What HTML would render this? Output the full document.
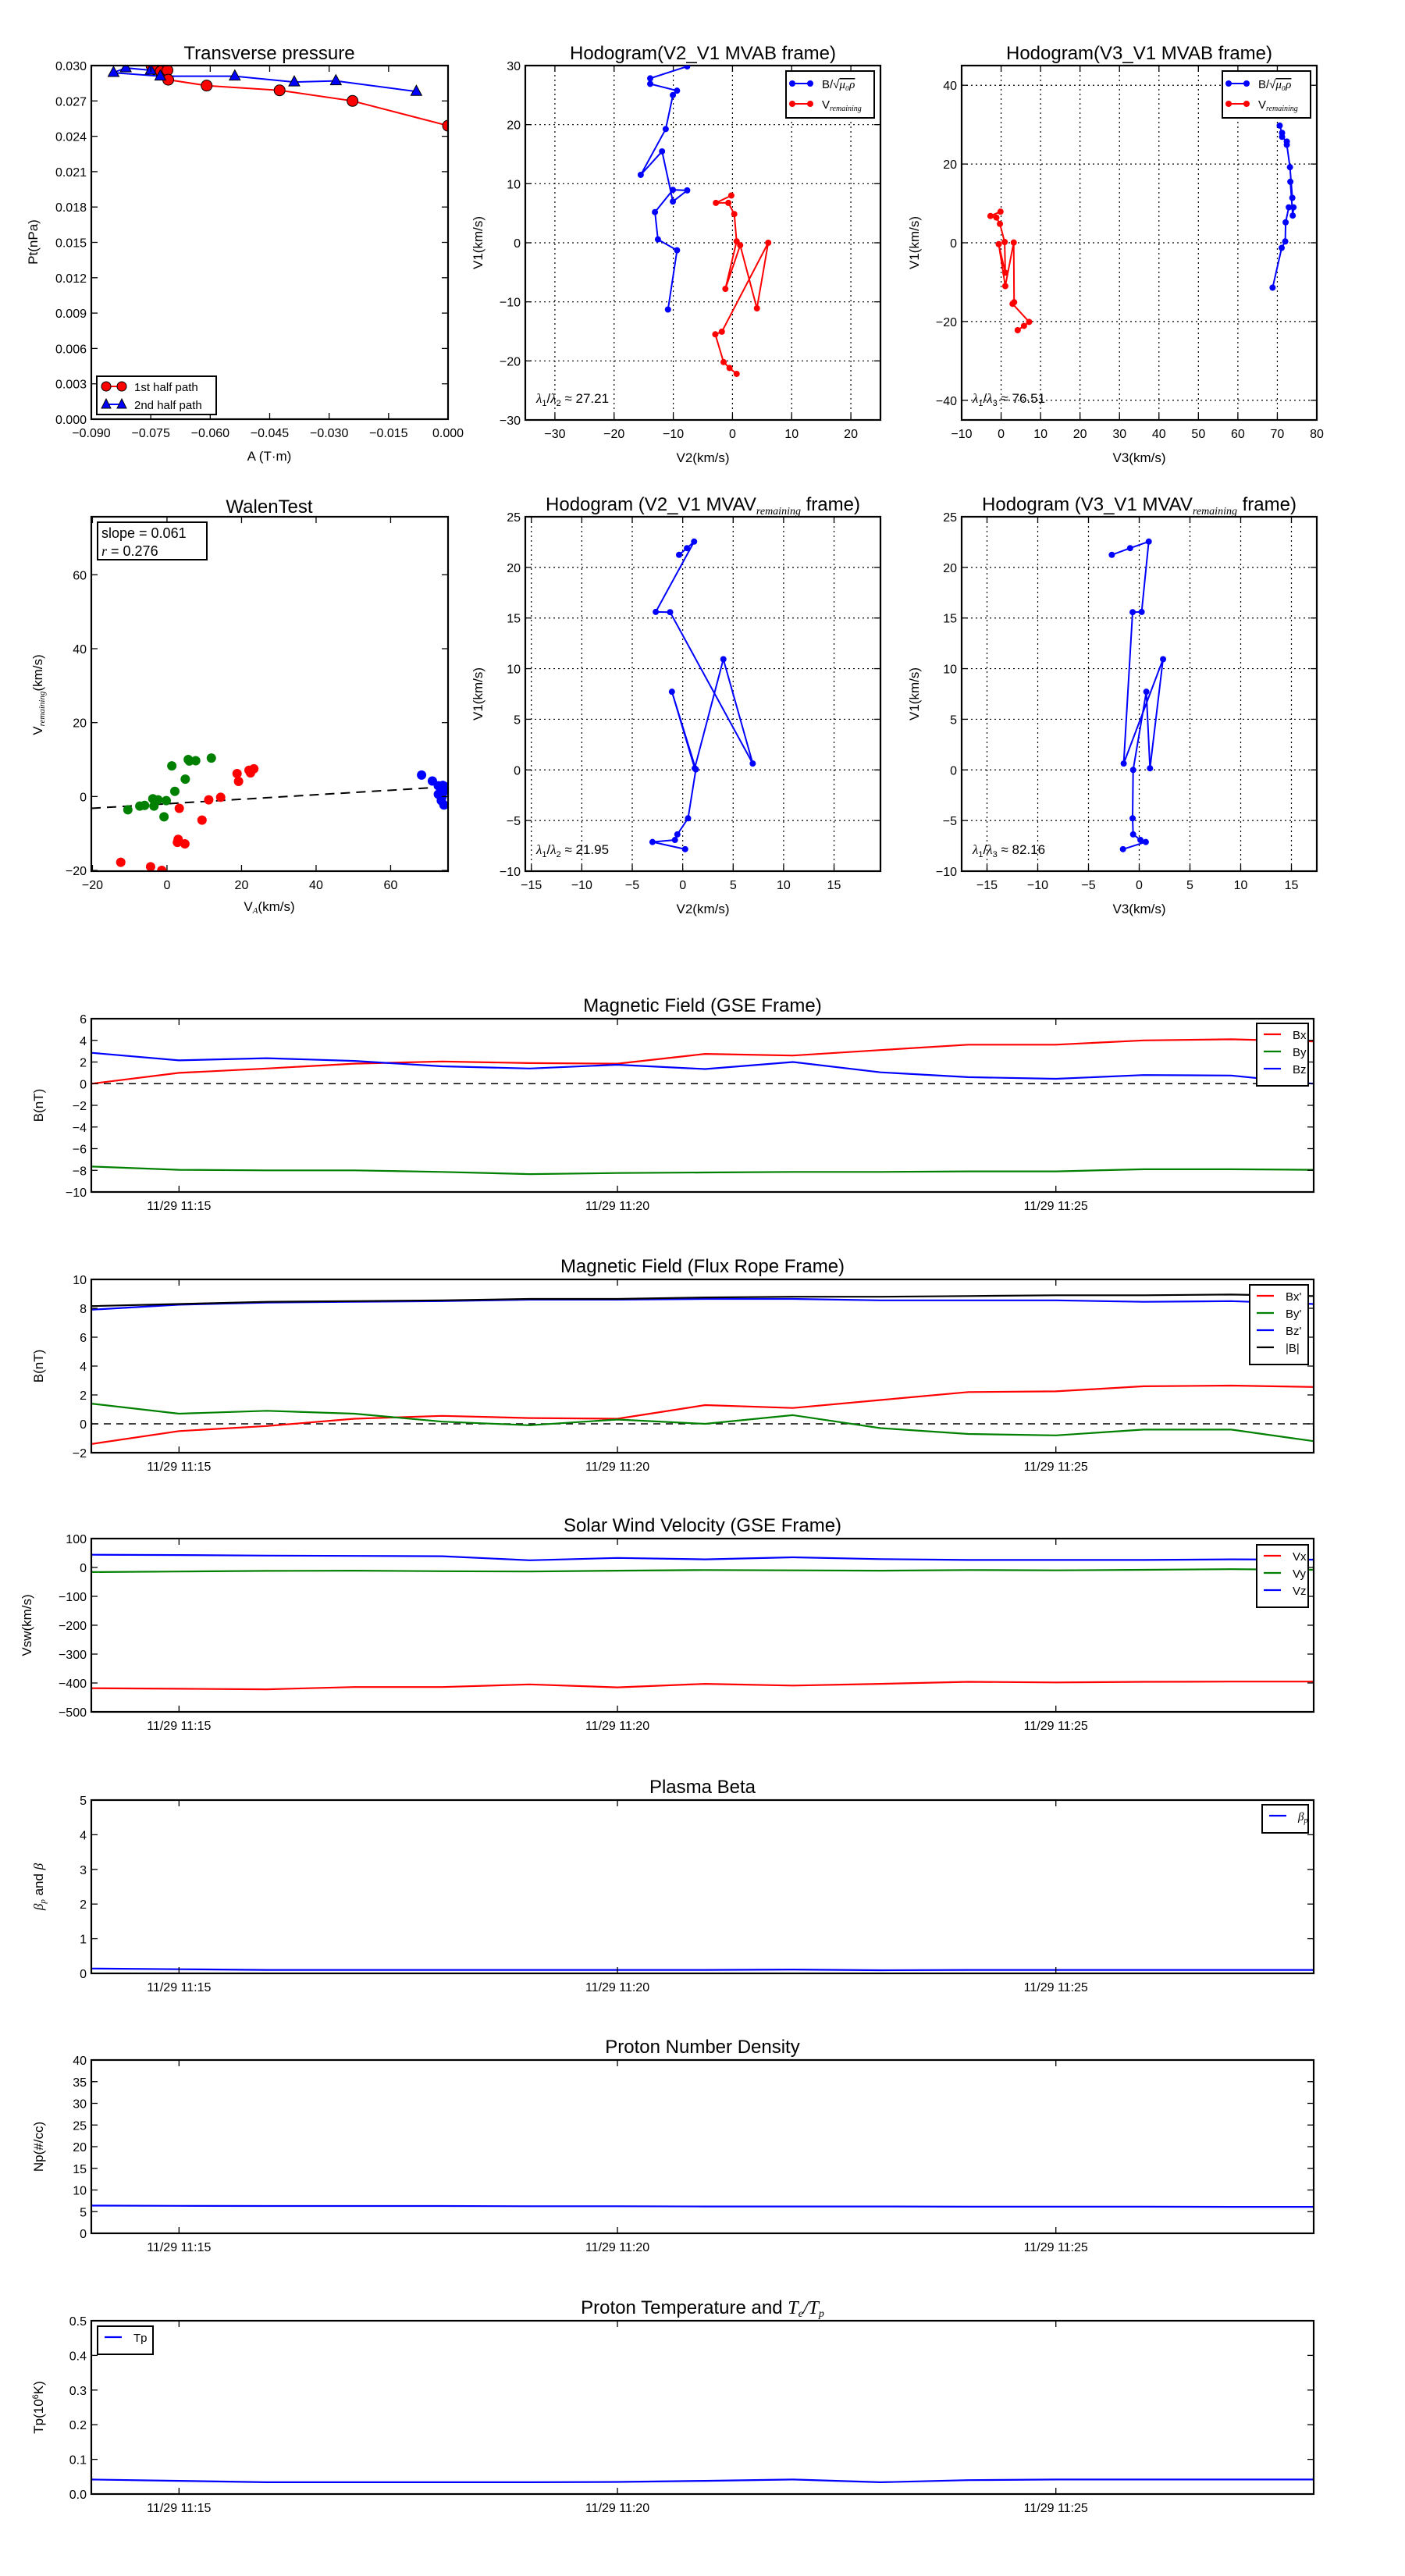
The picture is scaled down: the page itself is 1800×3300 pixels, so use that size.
<!DOCTYPE html>
<html><head><meta charset="utf-8"><title>Flux rope analysis</title>
<style>
html,body{margin:0;padding:0;background:#fff;}
svg{display:block;font-family:"Liberation Sans",sans-serif;}
text{fill:#000;}
</style></head>
<body>
<svg id="fig" width="1800" height="3300" viewBox="0 0 1800 3300" xmlns="http://www.w3.org/2000/svg">
<rect x="0" y="0" width="1800" height="3300" fill="#fff"/>
</svg>
<script>
// ---------- DATA ----------
const tpRedA = [-0.0748,-0.0742,-0.0725,-0.0708,-0.0706,-0.0609,-0.0425,-0.0241,0.0];
const tpRedPt = [0.0300,0.0297,0.0295,0.0296,0.0288,0.0283,0.0279,0.0270,0.0249];
const tpBlueA = [-0.0080,-0.0283,-0.0388,-0.0538,-0.0726,-0.0844,-0.0813,-0.0750];
const tpBluePt = [0.0278,0.0287,0.0286,0.0291,0.0291,0.0294,0.0298,0.0296];
const tpXTicks = [-0.090,-0.075,-0.060,-0.045,-0.030,-0.015,0.000];
const tpYTicks = [0,0.003,0.006,0.009,0.012,0.015,0.018,0.021,0.024,0.027,0.030];

const h1BlueV2 = [-7.65,-13.9,-13.9,-9.37,-10.07,-11.28,-15.5,-11.9,-10.07,-7.65,-10.07,-13.1,-12.6,-9.37,-10.9];
const h1BlueV1 = [29.86,27.83,26.9,25.75,25.0,19.25,11.5,15.47,6.98,8.87,8.96,5.19,0.57,-1.27,-11.3];
const h1RedV2 = [-0.2,-2.8,-0.7,0.3,0.7,-1.2,1.3,4.13,6.04,-1.8,-2.9,-1.5,-0.5,0.7];
const h1RedV1 = [8.0,6.75,6.75,4.86,0.24,-7.8,-0.42,-11.1,0.0,-15.05,-15.5,-20.2,-21.2,-22.2];
const h1Ratio = "27.21";

const h2BlueV3 = [70.6,71.2,71.2,72.4,72.4,73.2,73.8,73.3,73.9,74.1,72.9,72.1,72.0,71.1,68.8];
const h2BlueV1 = [29.75,27.9,26.9,25.7,24.9,19.2,11.4,15.5,6.9,9.0,9.0,5.2,0.35,-1.3,-11.4];
const h2RedV3 = [-0.15,-2.7,-1.2,-0.3,0.9,1.06,-0.6,1.06,3.2,3.3,2.9,7.1,5.8,4.2];
const h2RedV1 = [7.9,6.8,6.4,4.8,0.2,-7.6,-0.35,-11.0,0.07,-15.1,-15.5,-20.1,-21.1,-22.2];
const h2Ratio = "76.51";

const walenGreenX = [-10.5,-7.3,-6.0,-3.8,-3.5,-2.4,-0.2,-0.8,1.3,2.1,4.9,5.7,7.7,11.9,6.0];
const walenGreenY = [-3.6,-2.6,-2.4,-0.6,-2.6,-0.9,-1.1,-5.5,8.3,1.4,4.7,10.0,9.7,10.4,9.6];
const walenRedX = [-12.4,-4.4,-1.4,3.3,3.0,2.8,4.8,9.4,11.2,14.4,18.8,19.2,22.0,22.4,23.3];
const walenRedY = [-17.8,-19.0,-20.0,-3.2,-11.6,-12.4,-12.8,-6.4,-0.9,-0.2,6.2,4.1,7.1,6.4,7.5];
const walenBlueX = [68.3,71.2,72.8,74.0,72.8,73.6,74.3,74.4,74.8,73.8];
const walenBlueY = [5.8,4.2,2.9,3.0,0.6,-1.1,-2.3,1.5,2.6,0.0];
const walenSlope = 0.061;
const walenIntercept = -1.96;
const walenR = 0.276;

const h5V2 = [-0.36,0.42,1.13,-2.67,-1.25,6.94,4.03,1.19,-1.07,1.3,0.53,-0.53,-0.77,-3.0,0.24];
const h5V1 = [21.24,21.9,22.55,15.6,15.58,0.63,10.93,0.16,7.72,0.05,-4.78,-6.37,-6.92,-7.12,-7.83];
const h5Ratio = "21.95";
const h6V3 = [-2.7,-0.9,0.94,0.24,-0.65,-1.53,2.35,1.06,0.7,-0.6,-0.65,-0.6,0.12,0.65,-1.6];
const h6V1 = [21.24,21.9,22.55,15.6,15.58,0.63,10.93,0.16,7.72,0.0,-4.78,-6.37,-6.92,-7.12,-7.83];
const h6Ratio = "82.16";

const tMinutes = [14,15,16,17,18,19,20,21,22,23,24,25,26,27,27.94];
const tTickMinutes = [15,20,25];
const tTickLabels = ["11/29 11:15","11/29 11:20","11/29 11:25"];
const bxGse = [0,1.0,1.4,1.85,2.05,1.9,1.85,2.75,2.6,3.1,3.6,3.6,4.0,4.1,3.9];
const byGse = [-7.65,-7.95,-8.0,-8.0,-8.15,-8.35,-8.25,-8.2,-8.15,-8.15,-8.1,-8.1,-7.9,-7.9,-7.95];
const bzGse = [2.85,2.15,2.35,2.1,1.6,1.4,1.75,1.35,2.0,1.05,0.6,0.45,0.8,0.75,0.0];
const bxFr = [-1.4,-0.5,-0.15,0.35,0.55,0.4,0.35,1.3,1.1,1.65,2.2,2.25,2.6,2.65,2.55];
const byFr = [1.4,0.7,0.9,0.7,0.15,-0.1,0.3,0.0,0.6,-0.3,-0.7,-0.8,-0.4,-0.4,-1.2];
const bzFr = [7.9,8.25,8.4,8.45,8.5,8.6,8.6,8.65,8.65,8.55,8.55,8.55,8.45,8.5,8.3];
const bMag = [8.15,8.3,8.45,8.5,8.55,8.65,8.65,8.75,8.8,8.8,8.85,8.9,8.9,8.95,8.85];
const vxGse = [-418,-420,-422,-414,-414,-405,-415,-403,-409,-403,-396,-398,-396,-395,-395];
const vyGse = [-16,-14,-12,-11,-13,-14,-11,-9,-10,-11,-9,-10,-8,-6,-8];
const vzGse = [44,43,41,40,39,25,33,28,35,29,26,26,26,28,27];
const betaP = [0.14,0.12,0.1,0.1,0.1,0.1,0.1,0.1,0.11,0.09,0.1,0.1,0.1,0.1,0.1];
const npData = [6.4,6.35,6.3,6.3,6.3,6.25,6.25,6.2,6.2,6.2,6.15,6.15,6.15,6.1,6.1];
const tpData = [0.042,0.038,0.034,0.034,0.034,0.034,0.035,0.038,0.042,0.034,0.040,0.042,0.042,0.042,0.042];

// ---------- HELPERS ----------
const NS = 'http://www.w3.org/2000/svg';
const svg = document.getElementById('fig');
let clipId = 0;
function mk(tag, attrs, parent){
  const e = document.createElementNS(NS, tag);
  for (const k in attrs) e.setAttribute(k, attrs[k]);
  (parent || svg).appendChild(e);
  return e;
}
function fmtMinus(s){ return String(s).replace('-', '\u2212'); }
function makeAxes(c){
  const sx = v => c.x0 + (v - c.xmin) / (c.xmax - c.xmin) * (c.x1 - c.x0);
  const sy = v => c.y1 - (v - c.ymin) / (c.ymax - c.ymin) * (c.y1 - c.y0);
  return {sx, sy, c};
}
function drawFrame(ax, xticks, xlabels, yticks, ylabels, grid, g){
  const c = ax.c;
  if (grid){
    xticks.forEach(v => {
      const l = mk('line', {x1: ax.sx(v), x2: ax.sx(v), y1: c.y0, y2: c.y1, stroke: '#000', 'stroke-width': 1.2, 'stroke-dasharray': '2,4'}, g);
      
      
    });
    yticks.forEach(v => {
      const l = mk('line', {x1: c.x0, x2: c.x1, y1: ax.sy(v), y2: ax.sy(v), stroke: '#000', 'stroke-width': 1.2, 'stroke-dasharray': '2,4'}, g);
      
      
    });
  }
  xticks.forEach((v, i) => {
    const x = ax.sx(v);
    const t1 = mk('line', {x1: x, x2: x, y1: c.y1, y2: c.y1 - 8, stroke: '#000', 'stroke-width': 1.3}, g);
    
    
    const t2 = mk('line', {x1: x, x2: x, y1: c.y0, y2: c.y0 + 8, stroke: '#000', 'stroke-width': 1.3}, g);
    
    
    const tx = mk('text', {x: x, y: c.y1 + 23, 'font-size': 16, 'text-anchor': 'middle'}, g);
    tx.textContent = xlabels[i];
    
    
  });
  yticks.forEach((v, i) => {
    const y = ax.sy(v);
    const t1 = mk('line', {x1: c.x0, x2: c.x0 + 8, y1: y, y2: y, stroke: '#000', 'stroke-width': 1.3}, g);
    
    
    const t2 = mk('line', {x1: c.x1, x2: c.x1 - 8, y1: y, y2: y, stroke: '#000', 'stroke-width': 1.3}, g);
    
    
    const tx = mk('text', {x: c.x0 - 6, y: y + 6, 'font-size': 16, 'text-anchor': 'end'}, g);
    tx.textContent = ylabels[i];
    
    
  });
  const r = mk('rect', {x: c.x0, y: c.y0, width: c.x1 - c.x0, height: c.y1 - c.y0, fill: 'none', stroke: '#000', 'stroke-width': 2.2}, g);
  
  
}
function clipGroup(ax, parent){
  const c = ax.c;
  const id = 'clip' + (clipId++);
  const cp = mk('clipPath', {id: id}, parent);
  mk('rect', {x: c.x0, y: c.y0, width: c.x1 - c.x0, height: c.y1 - c.y0}, cp);
  return mk('g', {'clip-path': 'url(#' + id + ')'}, parent);
}
function pathD(ax, xs, ys){
  return xs.map((x, i) => (i ? 'L' : 'M') + ax.sx(x).toFixed(1) + ',' + ax.sy(ys[i]).toFixed(1)).join(' ');
}
function title(text, cx, y, g){
  const t = mk('text', {x: cx, y: y, 'font-size': 24, 'text-anchor': 'middle'}, g);
  t.innerHTML = text;
  return t;
}
function yLabel(html, x, cy, g){
  const t = mk('text', {x: 0, y: 0, 'font-size': 17, 'text-anchor': 'middle', transform: 'translate(' + x + ',' + cy + ') rotate(-90)'}, g);
  t.innerHTML = html;
  return t;
}
function xLabel(html, cx, y, g){
  const t = mk('text', {x: cx, y: y, 'font-size': 17, 'text-anchor': 'middle'}, g);
  t.innerHTML = html;
  return t;
}
function seq(a, b, s){ const r = []; for (let v = a; v <= b + 1e-9; v += s) r.push(+v.toFixed(6)); return r; }

// ---------- 1. TRANSVERSE PRESSURE ----------
(function(){
  const g = mk('g', {});
  
  
  const ax = makeAxes({x0: 117, x1: 574, y0: 84, y1: 537, xmin: -0.09, xmax: 0, ymin: 0, ymax: 0.03});
  const cg = clipGroup(ax, g);
  const rl = mk('path', {d: pathD(ax, tpRedA, tpRedPt), fill: 'none', stroke: '#f00', 'stroke-width': 2}, cg);
  
  
  const bl = mk('path', {d: pathD(ax, tpBlueA, tpBluePt), fill: 'none', stroke: '#00f', 'stroke-width': 2}, cg);
  
  
  tpRedA.forEach((a, i) => {
    const m = mk('circle', {cx: ax.sx(a), cy: ax.sy(tpRedPt[i]), r: 7, fill: '#f00', stroke: '#000', 'stroke-width': 1}, cg);
    
    
  });
  tpBlueA.forEach((a, i) => {
    const x = ax.sx(a), y = ax.sy(tpBluePt[i]);
    const m = mk('polygon', {points: (x) + ',' + (y - 8) + ' ' + (x - 7) + ',' + (y + 5) + ' ' + (x + 7) + ',' + (y + 5), fill: '#00f', stroke: '#000', 'stroke-width': 1}, cg);
    
    
  });
  drawFrame(ax, tpXTicks, tpXTicks.map(v => fmtMinus(v.toFixed(3))), tpYTicks, tpYTicks.map(v => v.toFixed(3)), false, g);
  const t = title('Transverse pressure', 345, 76, g);
  
  
  const yl = yLabel('Pt(nPa)', 48, 310, g);
  
  
  const xl = xLabel('A (T·m)', 345, 590, g);
  
  
  const lg = mk('g', {}, g);
  
  
  mk('rect', {x: 124, y: 482, width: 153, height: 49, fill: '#fff', stroke: '#000', 'stroke-width': 2}, lg);
  mk('line', {x1: 136, x2: 156, y1: 495, y2: 495, stroke: '#f00', 'stroke-width': 2}, lg);
  mk('circle', {cx: 136, cy: 495, r: 6, fill: '#f00', stroke: '#000'}, lg);
  mk('circle', {cx: 156, cy: 495, r: 6, fill: '#f00', stroke: '#000'}, lg);
  const e1 = mk('text', {x: 172, y: 501, 'font-size': 15}, lg); e1.textContent = '1st half path';
  
  
  mk('line', {x1: 136, x2: 156, y1: 518, y2: 518, stroke: '#00f', 'stroke-width': 2}, lg);
  mk('polygon', {points: '136,511 130,523 142,523', fill: '#00f', stroke: '#000'}, lg);
  mk('polygon', {points: '156,511 150,523 162,523', fill: '#00f', stroke: '#000'}, lg);
  const e2 = mk('text', {x: 172, y: 524, 'font-size': 15}, lg); e2.textContent = '2nd half path';
  
  
})();

// ---------- HODOGRAM GENERIC ----------
function hodogram(cfg){
  const g = mk('g', {});
  
  
  const ax = makeAxes(cfg.box);
  drawFrame(ax, cfg.xticks, cfg.xticks.map(v => fmtMinus(v)), cfg.yticks, cfg.yticks.map(v => fmtMinus(v)), true, g);
  const cg = clipGroup(ax, g);
  cfg.series.forEach(s => {
    const p = mk('path', {d: pathD(ax, s.x, s.y), fill: 'none', stroke: s.color, 'stroke-width': 2}, cg);
    
    
    s.x.forEach((v, i) => {
      const m = mk('circle', {cx: ax.sx(v), cy: ax.sy(s.y[i]), r: 4, fill: s.color}, cg);
      
      
    });
  });
  const c = cfg.box;
  const t = title(cfg.title, (c.x0 + c.x1) / 2, c.y0 - 8, g);
  
  
  const yl = yLabel('V1(km/s)', c.x0 - 55, (c.y0 + c.y1) / 2, g);
  
  
  const xl = xLabel(cfg.xlabel, (c.x0 + c.x1) / 2, c.y1 + 54, g);
  
  
  const rt = mk('text', {x: c.x0 + 14, y: c.y1 - 22, 'font-size': 17}, g);
  rt.innerHTML = '<tspan font-style="italic" font-family="Liberation Serif">λ</tspan><tspan font-size="11" dy="4">1</tspan><tspan dy="-4">/</tspan><tspan font-style="italic" font-family="Liberation Serif">λ</tspan><tspan font-size="11" dy="4">' + cfg.sub + '</tspan><tspan dy="-4"> ≈ ' + cfg.ratio + '</tspan>';
  
  
  if (cfg.legend){
    const lg = mk('g', {}, g);
    
    
    const lx = c.x1 - 121;
    mk('rect', {x: lx, y: 91, width: 113, height: 60, fill: '#fff', stroke: '#000', 'stroke-width': 2}, lg);
    mk('line', {x1: lx + 8, x2: lx + 31, y1: 107, y2: 107, stroke: '#00f', 'stroke-width': 2}, lg);
    mk('circle', {cx: lx + 8, cy: 107, r: 4, fill: '#00f'}, lg);
    mk('circle', {cx: lx + 31, cy: 107, r: 4, fill: '#00f'}, lg);
    const a = mk('text', {x: lx + 46, y: 113, 'font-size': 15}, lg);
    a.innerHTML = 'B/√<tspan font-style="italic" font-family="Liberation Serif" text-decoration="overline">μ₀ρ</tspan>';
    
    
    mk('line', {x1: lx + 8, x2: lx + 31, y1: 133, y2: 133, stroke: '#f00', 'stroke-width': 2}, lg);
    mk('circle', {cx: lx + 8, cy: 133, r: 4, fill: '#f00'}, lg);
    mk('circle', {cx: lx + 31, cy: 133, r: 4, fill: '#f00'}, lg);
    const b = mk('text', {x: lx + 46, y: 139, 'font-size': 15}, lg);
    b.innerHTML = 'V<tspan font-size="10" dy="3" font-style="italic" font-family="Liberation Serif">remaining</tspan>';
    
    
  }
}
hodogram({name: 'hodogram-v2-v1-mvab', title: 'Hodogram(V2_V1 MVAB frame)', xlabel: 'V2(km/s)', sub: '2', ratio: h1Ratio, legend: true,
  box: {x0: 673, x1: 1128, y0: 84, y1: 538, xmin: -35, xmax: 25, ymin: -30, ymax: 30},
  xticks: seq(-30, 20, 10), yticks: seq(-30, 30, 10),
  series: [{name: 'b-field', x: h1BlueV2, y: h1BlueV1, color: '#00f'}, {name: 'v-remaining', x: h1RedV2, y: h1RedV1, color: '#f00'}]});
hodogram({name: 'hodogram-v3-v1-mvab', title: 'Hodogram(V3_V1 MVAB frame)', xlabel: 'V3(km/s)', sub: '3', ratio: h2Ratio, legend: true,
  box: {x0: 1232, x1: 1687, y0: 84, y1: 538, xmin: -10, xmax: 80, ymin: -45, ymax: 45},
  xticks: seq(-10, 80, 10), yticks: seq(-40, 40, 20),
  series: [{name: 'b-field', x: h2BlueV3, y: h2BlueV1, color: '#00f'}, {name: 'v-remaining', x: h2RedV3, y: h2RedV1, color: '#f00'}]});
hodogram({name: 'hodogram-v2-v1-mvav', title: 'Hodogram (V2_V1 MVAV<tspan font-size="14" dy="5" font-style="italic" font-family="Liberation Serif">remaining</tspan><tspan dy="-5"> frame)</tspan>', xlabel: 'V2(km/s)', sub: '2', ratio: h5Ratio, legend: false,
  box: {x0: 673, x1: 1128, y0: 662, y1: 1116, xmin: -15.6, xmax: 19.6, ymin: -10, ymax: 25},
  xticks: seq(-15, 15, 5), yticks: seq(-10, 25, 5),
  series: [{name: 'b-field', x: h5V2, y: h5V1, color: '#00f'}]});
hodogram({name: 'hodogram-v3-v1-mvav', title: 'Hodogram (V3_V1 MVAV<tspan font-size="14" dy="5" font-style="italic" font-family="Liberation Serif">remaining</tspan><tspan dy="-5"> frame)</tspan>', xlabel: 'V3(km/s)', sub: '3', ratio: h6Ratio, legend: false,
  box: {x0: 1232, x1: 1687, y0: 662, y1: 1116, xmin: -17.5, xmax: 17.5, ymin: -10, ymax: 25},
  xticks: seq(-15, 15, 5), yticks: seq(-10, 25, 5),
  series: [{name: 'b-field', x: h6V3, y: h6V1, color: '#00f'}]});

// ---------- WALEN TEST ----------
(function(){
  const g = mk('g', {});
  
  
  const ax = makeAxes({x0: 117, x1: 574, y0: 662, y1: 1116, xmin: -20.3, xmax: 75.4, ymin: -20.2, ymax: 75.7});
  const cg = clipGroup(ax, g);
  const fx = [ax.c.xmin, ax.c.xmax];
  const fl = mk('line', {x1: ax.sx(fx[0]), y1: ax.sy(walenSlope * fx[0] + walenIntercept), x2: ax.sx(fx[1]), y2: ax.sy(walenSlope * fx[1] + walenIntercept), stroke: '#000', 'stroke-width': 2, 'stroke-dasharray': '12,8'}, cg);
  
  
  [[walenGreenX, walenGreenY, '#008000', 'walen-point-green'], [walenRedX, walenRedY, '#f00', 'walen-point-red'], [walenBlueX, walenBlueY, '#00f', 'walen-point-blue']].forEach(s => {
    s[0].forEach((v, i) => {
      const m = mk('circle', {cx: ax.sx(v), cy: ax.sy(s[1][i]), r: 6, fill: s[2]}, cg);
      
      
    });
  });
  const xt = [-20, 0, 20, 40, 60], yt = [-20, 0, 20, 40, 60];
  drawFrame(ax, xt, xt.map(fmtMinus), yt, yt.map(fmtMinus), false, g);
  const t = title('WalenTest', 345, 657, g);
  
  
  const yl = yLabel('V<tspan font-size="11" font-style="italic" font-family="Liberation Serif" dy="3">remaining</tspan><tspan dy="-3">(km/s)</tspan>', 54, 890, g);
  
  
  const xl = xLabel('V<tspan font-size="11" font-style="italic" font-family="Liberation Serif" dy="3">A</tspan><tspan dy="-3">(km/s)</tspan>', 345, 1167, g);
  
  
  const bx = mk('g', {}, g);
  
  
  mk('rect', {x: 125, y: 669, width: 140, height: 48, fill: '#fff', stroke: '#000', 'stroke-width': 2}, bx);
  const s1 = mk('text', {x: 130, y: 689, 'font-size': 18}, bx); s1.textContent = 'slope = ' + walenSlope.toFixed(3);
  
  
  const s2 = mk('text', {x: 130, y: 712, 'font-size': 18}, bx);
  s2.innerHTML = '<tspan font-style="italic" font-family="Liberation Serif">r</tspan> = ' + walenR.toFixed(3);
  
  
})();

// ---------- TIME SERIES ----------
function timeSeries(cfg){
  const g = mk('g', {});
  
  
  const ax = makeAxes({x0: 117, x1: 1683, y0: cfg.y0, y1: cfg.y0 + 222, xmin: 14, xmax: 27.94, ymin: cfg.ymin, ymax: cfg.ymax});
  const cg = clipGroup(ax, g);
  if (cfg.zero){
    const z = mk('line', {x1: 117, x2: 1683, y1: ax.sy(0), y2: ax.sy(0), stroke: '#000', 'stroke-width': 1.6, 'stroke-dasharray': '9,7'}, cg);
    
    
  }
  cfg.series.forEach(s => {
    const p = mk('path', {d: pathD(ax, tMinutes, s.y), fill: 'none', stroke: s.color, 'stroke-width': 2.2}, cg);
    
    
  });
  drawFrame(ax, tTickMinutes, tTickLabels, cfg.yticks, cfg.yticks.map(v => fmtMinus(cfg.fmt ? v.toFixed(cfg.fmt) : v)), false, g);
  const t = title(cfg.title, 900, cfg.y0 - 9, g);
  
  
  const yl = yLabel(cfg.ylabel, cfg.ylx || 55, cfg.y0 + 111, g);
  
  
  if (cfg.legend){
    const L = cfg.legend;
    const lg = mk('g', {}, g);
    
    
    mk('rect', {x: L.x, y: L.y, width: L.w, height: 14 + 22 * cfg.series.length, fill: '#fff', stroke: '#000', 'stroke-width': 2}, lg);
    cfg.series.forEach((s, i) => {
      const yy = L.y + 14 + 22 * i;
      mk('line', {x1: L.x + 9, x2: L.x + 31, y1: yy, y2: yy, stroke: s.color, 'stroke-width': 2.2}, lg);
      const tx = mk('text', {x: L.x + 46, y: yy + 6, 'font-size': 15}, lg);
      tx.innerHTML = s.label;
      
      
    });
  }
}
timeSeries({name: 'magnetic-field-gse', title: 'Magnetic Field (GSE Frame)', y0: 1305, ymin: -10, ymax: 6, yticks: seq(-10, 6, 2), ylabel: 'B(nT)', zero: true,
  legend: {x: 1610, y: 1311, w: 66},
  series: [{name: 'bx-line', label: 'Bx', y: bxGse, color: '#f00'}, {name: 'by-line', label: 'By', y: byGse, color: '#008000'}, {name: 'bz-line', label: 'Bz', y: bzGse, color: '#00f'}]});
timeSeries({name: 'magnetic-field-flux-rope', title: 'Magnetic Field (Flux Rope Frame)', y0: 1639, ymin: -2, ymax: 10, yticks: seq(-2, 10, 2), ylabel: 'B(nT)', zero: true,
  legend: {x: 1601, y: 1646, w: 75},
  series: [{name: 'bx-prime-line', label: "Bx'", y: bxFr, color: '#f00'}, {name: 'by-prime-line', label: "By'", y: byFr, color: '#008000'}, {name: 'bz-prime-line', label: "Bz'", y: bzFr, color: '#00f'}, {name: 'b-magnitude-line', label: '|B|', y: bMag, color: '#000'}]});
timeSeries({name: 'solar-wind-velocity', title: 'Solar Wind Velocity (GSE Frame)', y0: 1971, ymin: -500, ymax: 100, yticks: seq(-500, 100, 100), ylabel: 'Vsw(km/s)', ylx: 40,
  legend: {x: 1610, y: 1979, w: 66},
  series: [{name: 'vx-line', label: 'Vx', y: vxGse, color: '#f00'}, {name: 'vy-line', label: 'Vy', y: vyGse, color: '#008000'}, {name: 'vz-line', label: 'Vz', y: vzGse, color: '#00f'}]});
timeSeries({name: 'plasma-beta', title: 'Plasma Beta', y0: 2306, ymin: 0, ymax: 5, yticks: seq(0, 5, 1), ylabel: '<tspan font-style="italic" font-family="Liberation Serif">β<tspan font-size="11" dy="3">p</tspan></tspan><tspan dy="-3"> and </tspan><tspan font-style="italic" font-family="Liberation Serif">β</tspan>',
  legend: {x: 1617, y: 2312, w: 59},
  series: [{name: 'beta-p-line', label: '<tspan font-style="italic" font-family="Liberation Serif">β<tspan font-size="10" dy="3">p</tspan></tspan>', y: betaP, color: '#00f'}]});
timeSeries({name: 'proton-number-density', title: 'Proton Number Density', y0: 2639, ymin: 0, ymax: 40, yticks: seq(0, 40, 5), ylabel: 'Np(#/cc)',
  series: [{name: 'np-line', label: 'Np', y: npData, color: '#00f'}]});
timeSeries({name: 'proton-temperature', title: 'Proton Temperature and <tspan font-style="italic" font-family="Liberation Serif">T<tspan font-size="14" dy="4">e</tspan><tspan dy="-4">/T</tspan><tspan font-size="14" dy="4">p</tspan></tspan>', y0: 2973, ymin: 0, ymax: 0.5, yticks: seq(0, 0.5, 0.1), fmt: 1, ylabel: 'Tp(10<tspan font-size="11" dy="-6">6</tspan><tspan dy="6">K)</tspan>',
  legend: {x: 125, y: 2980, w: 71},
  series: [{name: 'tp-line', label: 'Tp', y: tpData, color: '#00f'}]});
</script>
</body></html>
